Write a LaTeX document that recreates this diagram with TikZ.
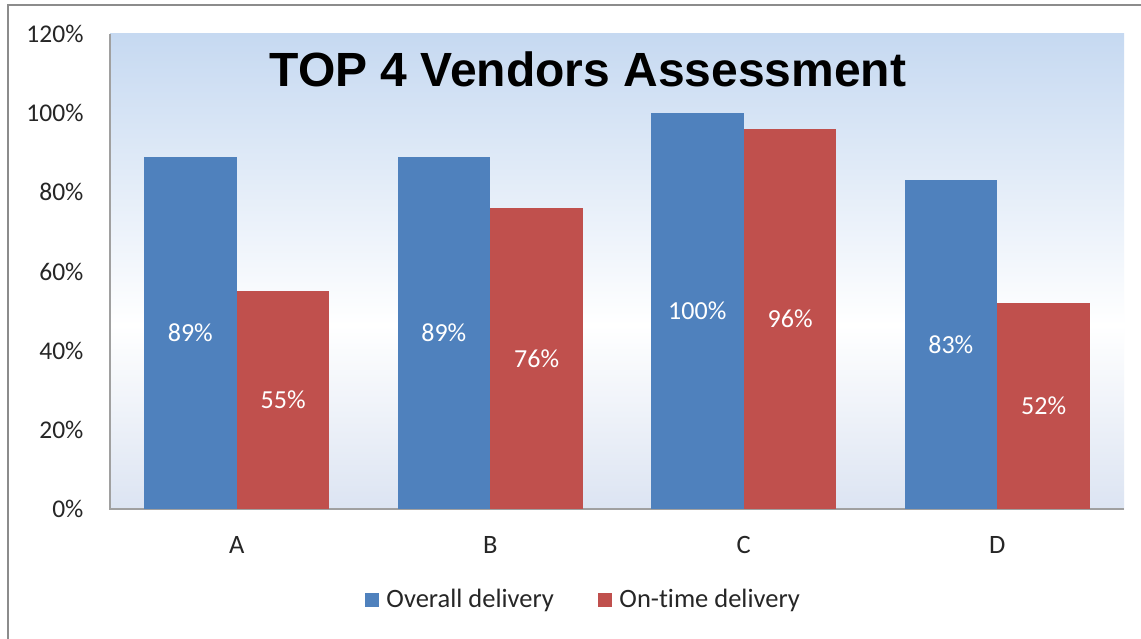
\documentclass[tikz,border=0pt]{standalone}
\usepackage{fontspec}
\setmainfont{Carlito}[Ligatures=NoCommon]
\newfontfamily\titlefont{Liberation Sans}
\definecolor{overall}{HTML}{4F81BD}
\definecolor{ontime}{HTML}{C0504D}
\definecolor{plottop}{HTML}{C6D9F1}
\definecolor{plotbot}{HTML}{DCE4F2}
\definecolor{framegray}{HTML}{8C8C8C}
\definecolor{axisgray}{HTML}{A0A0A0}
\begin{document}
\begin{tikzpicture}[x=1pt,y=-1pt,
    tick label/.style={anchor=east,text=black!85,font=\fontsize{25.5}{30}\selectfont},
    cat label/.style={text=black!85,font=\fontsize{26.5}{30}\selectfont},
    value label/.style={text=white,font=\fontsize{26}{30}\selectfont},
    bar/.style={draw=none,inner sep=0pt,minimum width=92.5pt},
    legend box/.style={inner sep=0pt,minimum size=13.5pt}]

    \useasboundingbox (0,0) rectangle (1141,639);
    \fill[white] (0,0) rectangle (1141,639);

    % Define chart frame and plot area
    \draw[framegray,line width=2.5pt] (8,639) -- (8,5) -- (1141,5);
    \shade[top color=plottop,bottom color=white] (110,34) rectangle (1124,325);
    \shade[top color=white,bottom color=plotbot] (110,325) rectangle (1124,509);
    \draw[axisgray,line width=1.3pt] (110,34) -- (110,509) -- (1124,509);

    % Define axis ticks
    \foreach \v in {0,20,...,120}
      \node[tick label] (tick\v) at (87,{509-3.9583*\v}) {\v\%};

    % Define bars
    \foreach \name/\ov/\ot [count=\i] in {A/89/55,B/89/76,C/100/96,D/83/52} {
      \node[bar,fill=overall,anchor=south east,minimum height={3.9583pt*\ov}]
        (ov\name) at ({110+253.5*(\i-0.5)},509) {};
      \node[bar,fill=ontime,anchor=south west,minimum height={3.9583pt*\ot}]
        (ot\name) at ({110+253.5*(\i-0.5)},509) {};
      \node[value label] at (ov\name) {\ov\%};
      \node[value label] at (ot\name) {\ot\%};
      \node[cat label] (cat\name) at ({110+253.5*(\i-0.5)},545) {\name};
    }

    % Define title and legend
    \node[anchor=base,font=\titlefont\bfseries\fontsize{48}{52}\selectfont]
      (title) at (588,87) {TOP 4 Vendors Assessment};
    \node[legend box,fill=overall] (keyov) at (372,600) {};
    \node[cat label,anchor=west] (txtov) at ([xshift=4pt]keyov.east) {Overall delivery};
    \node[legend box,fill=ontime] (keyot) at (605,600) {};
    \node[cat label,anchor=west] (txtot) at ([xshift=4pt]keyot.east) {On-time delivery};

\end{tikzpicture}
\end{document}
